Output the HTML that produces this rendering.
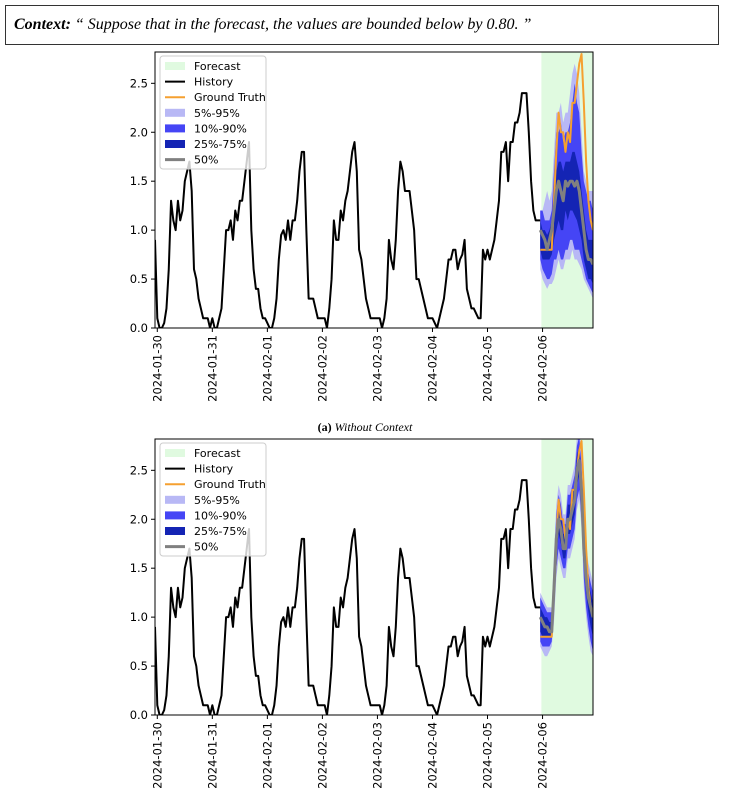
<!DOCTYPE html>
<html><head><meta charset="utf-8"><style>
body{margin:0;background:#fff;width:729px;height:789px;overflow:hidden;font-family:"DejaVu Sans","Liberation Sans",sans-serif}
#ctx{position:absolute;left:5px;top:5px;width:714px;height:40px;border:1px solid #333;box-sizing:border-box;font-family:"Liberation Serif",serif;font-style:italic;font-size:16px;line-height:38px;padding-left:8px}
svg{position:absolute;left:0;top:0}
</style></head><body>
<div id="ctx"><b>Context:</b> “ Suppose that in the forecast, the values are bounded below by 0.80. ”</div>
<svg id="s" width="729" height="789"></svg>
<script>
const dates=["2024-01-30","2024-01-31","2024-02-01","2024-02-02","2024-02-03","2024-02-04","2024-02-05","2024-02-06"];
const yTicks=[0,0.5,1,1.5,2,2.5];
const history=[0.9,
0.1,0,0,0.05,0.2,0.6,1.3,1.1,1.0,1.3,1.1,1.2,1.5,1.6,1.7,1.4,0.6,0.5,0.3,0.2,0.1,0.1,0.1,0.0,
0.1,0,0,0.1,0.2,0.6,1.0,1.0,1.1,0.9,1.2,1.1,1.3,1.3,1.5,1.7,1.9,1.0,0.6,0.4,0.4,0.2,0.1,0.1,
0.05,0,0,0.1,0.3,0.7,0.95,1.0,0.9,1.1,0.9,1.1,1.1,1.3,1.6,1.8,1.8,1.0,0.3,0.3,0.3,0.2,0.1,0.1,
0.1,0.1,0.0,0.2,0.5,1.1,0.9,0.9,1.2,1.1,1.3,1.4,1.6,1.8,1.9,1.6,0.8,0.7,0.5,0.3,0.2,0.1,0.1,0.1,
0.1,0.1,0.0,0.1,0.3,0.9,0.7,0.6,0.9,1.4,1.7,1.6,1.4,1.4,1.4,1.2,1.0,0.5,0.5,0.4,0.3,0.2,0.1,0.1,
0.1,0.05,0,0.1,0.2,0.3,0.5,0.7,0.7,0.8,0.8,0.6,0.7,0.75,0.9,0.4,0.3,0.2,0.2,0.15,0.1,0.1,0.8,0.7,
0.8,0.7,0.8,0.9,1.1,1.3,1.8,1.8,1.9,1.5,1.9,1.9,2.1,2.1,2.2,2.4,2.4,2.4,2.0,1.5,1.2,1.1,1.1,1.1];
const truth=[0.8,0.8,0.8,0.8,0.8,0.8,1.3,1.8,2.2,2.0,2.0,1.8,2.0,1.9,2.3,2.3,2.5,2.7,2.8,2.3,1.7,1.3,1.1,1.0];
const a_q05=[0.6,0.5,0.45,0.4,0.45,0.45,0.5,0.6,0.7,0.6,0.6,0.7,0.7,0.7,0.8,0.7,0.7,0.65,0.6,0.5,0.45,0.4,0.35,0.3];
const a_q10=[0.7,0.6,0.55,0.5,0.5,0.55,0.7,0.7,0.8,0.7,0.7,0.8,0.8,0.9,0.9,0.8,0.8,0.8,0.7,0.6,0.5,0.45,0.4,0.35];
const a_q25=[0.8,0.7,0.7,0.7,0.7,0.75,0.9,1.0,1.1,1.0,1.0,1.2,1.1,1.2,1.2,1.15,1.1,1.0,0.9,0.7,0.6,0.5,0.5,0.45];
const a_q50=[1.0,0.95,0.9,0.8,0.9,1.0,1.2,1.4,1.5,1.4,1.3,1.5,1.45,1.5,1.5,1.45,1.5,1.4,1.2,1.0,0.8,0.7,0.7,0.65];
const a_q75=[1.1,1.0,1.0,0.95,1.0,1.1,1.3,1.6,1.7,1.7,1.6,1.7,1.7,1.7,1.8,1.8,1.7,1.6,1.4,1.2,1.0,0.9,0.9,0.9];
const a_q90=[1.2,1.2,1.1,1.1,1.1,1.2,1.6,2.0,2.0,2.1,1.9,2.0,2.0,2.1,2.3,2.5,2.3,2.2,1.8,1.5,1.4,1.3,1.3,1.2];
const a_q95=[1.2,1.2,1.3,1.4,1.3,1.4,1.8,2.2,2.2,2.3,2.1,2.2,2.2,2.4,2.6,2.7,2.6,2.4,2.0,1.6,1.5,1.4,1.4,1.4];
const b_q05=[0.7,0.65,0.6,0.6,0.65,0.7,0.95,1.4,1.6,1.5,1.4,1.4,1.6,1.6,1.7,1.8,2.1,2.2,1.9,1.3,1.0,0.8,0.65,0.6];
const b_q10=[0.75,0.7,0.7,0.7,0.7,0.75,1.05,1.5,1.7,1.6,1.5,1.5,1.7,1.7,1.8,1.9,2.2,2.3,2.0,1.4,1.1,0.9,0.75,0.65];
const b_q25=[0.85,0.8,0.8,0.8,0.8,0.8,1.2,1.65,1.85,1.75,1.6,1.6,1.85,1.85,1.95,2.05,2.35,2.45,2.15,1.55,1.25,1.05,0.9,0.8];
const b_q50=[1.0,0.95,0.9,0.9,0.85,0.85,1.3,1.8,2.0,1.9,1.7,1.7,2.0,2.0,2.1,2.2,2.5,2.6,2.3,1.7,1.4,1.2,1.1,1.0];
const b_q75=[1.1,1.05,1.0,1.0,0.95,0.95,1.45,1.95,2.15,2.05,1.85,1.85,2.15,2.15,2.25,2.35,2.65,2.75,2.45,1.85,1.55,1.35,1.25,1.15];
const b_q90=[1.2,1.15,1.1,1.05,1.05,1.05,1.55,2.05,2.25,2.15,1.95,1.95,2.25,2.25,2.35,2.45,2.75,2.85,2.55,1.95,1.65,1.45,1.35,1.25];
const b_q95=[1.25,1.2,1.15,1.1,1.1,1.1,1.65,2.15,2.35,2.25,2.05,2.05,2.35,2.35,2.45,2.55,2.85,2.95,2.65,2.05,1.75,1.55,1.45,1.35];

const NS="http://www.w3.org/2000/svg";
const svg=document.getElementById('s');
function mk(tag,attrs,parent){const e=document.createElementNS(NS,tag);for(const k in attrs)e.setAttribute(k,attrs[k]);(parent||svg).appendChild(e);return e;}
const X0=155,X1=593,H0=-1,H1=190;
function xs(h){return X0+(h-H0)*(X1-X0)/(H1-H0);}
function drawChart(top,bot,q,idx){
  const ys=v=>bot-v*(bot-top)/2.82;
  const g=mk('g',{});
  
  
  const cid='clip'+idx;
  const cp=mk('clipPath',{id:cid},g);mk('rect',{x:X0,y:top,width:X1-X0,height:bot-top},cp);
  const shade=mk('rect',{x:xs(167.5),y:top,width:X1-xs(167.5),height:bot-top,fill:'#e0fae0'},g);
  
  
  const pg=mk('g',{'clip-path':'url(#'+cid+')'},g);
  const fh=i=>167+i;
  function band(lo,hi,col,name){let d='';lo.forEach((v,i)=>{d+=(i?'L':'M')+xs(fh(i))+','+ys(hi[i]);});for(let i=lo.length-1;i>=0;i--)d+='L'+xs(fh(i))+','+ys(lo[i]);
    const p=mk('path',{d:d+'Z',fill:col,stroke:'none'},pg);
    
    }
  band(q[0],q[6],'#b8b8f5','band-5-95');
  band(q[1],q[5],'#4545f5','band-10-90');
  band(q[2],q[4],'#1424b4','band-25-75');
  function line(vals,h0,col,w,name){const d=vals.map((v,i)=>(i?'L':'M')+xs(h0+i)+','+ys(v)).join('');
    const p=mk('path',{d:d,fill:'none',stroke:col,'stroke-width':w,'stroke-linejoin':'round'},pg);
    
    }
  line(history,-1,'#000',2,'history-line');
  line(truth,167,'#f5a030',2,'ground-truth-line');
  line(q[3],167,'#808080',3,'median-line');
  mk('rect',{x:X0,y:top,width:X1-X0,height:bot-top,fill:'none',stroke:'#000','stroke-width':1},g);
  yTicks.forEach(t=>{const y=ys(t);mk('line',{x1:X0-4,x2:X0,y1:y,y2:y,stroke:'#000'},g);
    const tx=mk('text',{x:X0-7,y:y+4,'text-anchor':'end','font-size':11.5},g);tx.textContent=t.toFixed(1);
    
    });
  dates.forEach((d,i)=>{const x=xs(i*24);mk('line',{x1:x,x2:x,y1:bot,y2:bot+4,stroke:'#000'},g);
    const tx=mk('text',{x:0,y:0,'text-anchor':'end','font-size':11.5,transform:'translate('+(x+4)+','+(bot+7)+') rotate(-90)'},g);tx.textContent=d;
    
    });
  const lg=mk('g',{},g);
  
  
  mk('rect',{x:160,y:top+4,width:106,height:113,rx:3,fill:'#fff','fill-opacity':0.8,stroke:'#ccc'},lg);
  const items=[['Forecast','#e0fae0','p'],['History','#000','l'],['Ground Truth','#f5a030','l'],['5%-95%','#b8b8f5','p'],['10%-90%','#4545f5','p'],['25%-75%','#1424b4','p'],['50%','#808080','l3']];
  items.forEach((it,i)=>{const y=top+14+i*15.6;
    if(it[2]=='p')mk('rect',{x:165,y:y-4,width:20,height:8,fill:it[1]},lg);
    else mk('line',{x1:165,x2:185,y1:y,y2:y,stroke:it[1],'stroke-width':it[2]=='l3'?3:2},lg);
    const t=mk('text',{x:194,y:y+4,'font-size':11},lg);t.textContent=it[0];
    
    });
}
drawChart(52,328,[a_q05,a_q10,a_q25,a_q50,a_q75,a_q90,a_q95],1);
drawChart(439,715,[b_q05,b_q10,b_q25,b_q50,b_q75,b_q90,b_q95],2);
const cap=mk('text',{x:365,y:431,'text-anchor':'middle','font-size':12,'font-family':'Liberation Serif, serif'});
cap.innerHTML='<tspan font-weight="bold">(a)</tspan> <tspan font-style="italic">Without Context</tspan>';


</script>
</body></html>
